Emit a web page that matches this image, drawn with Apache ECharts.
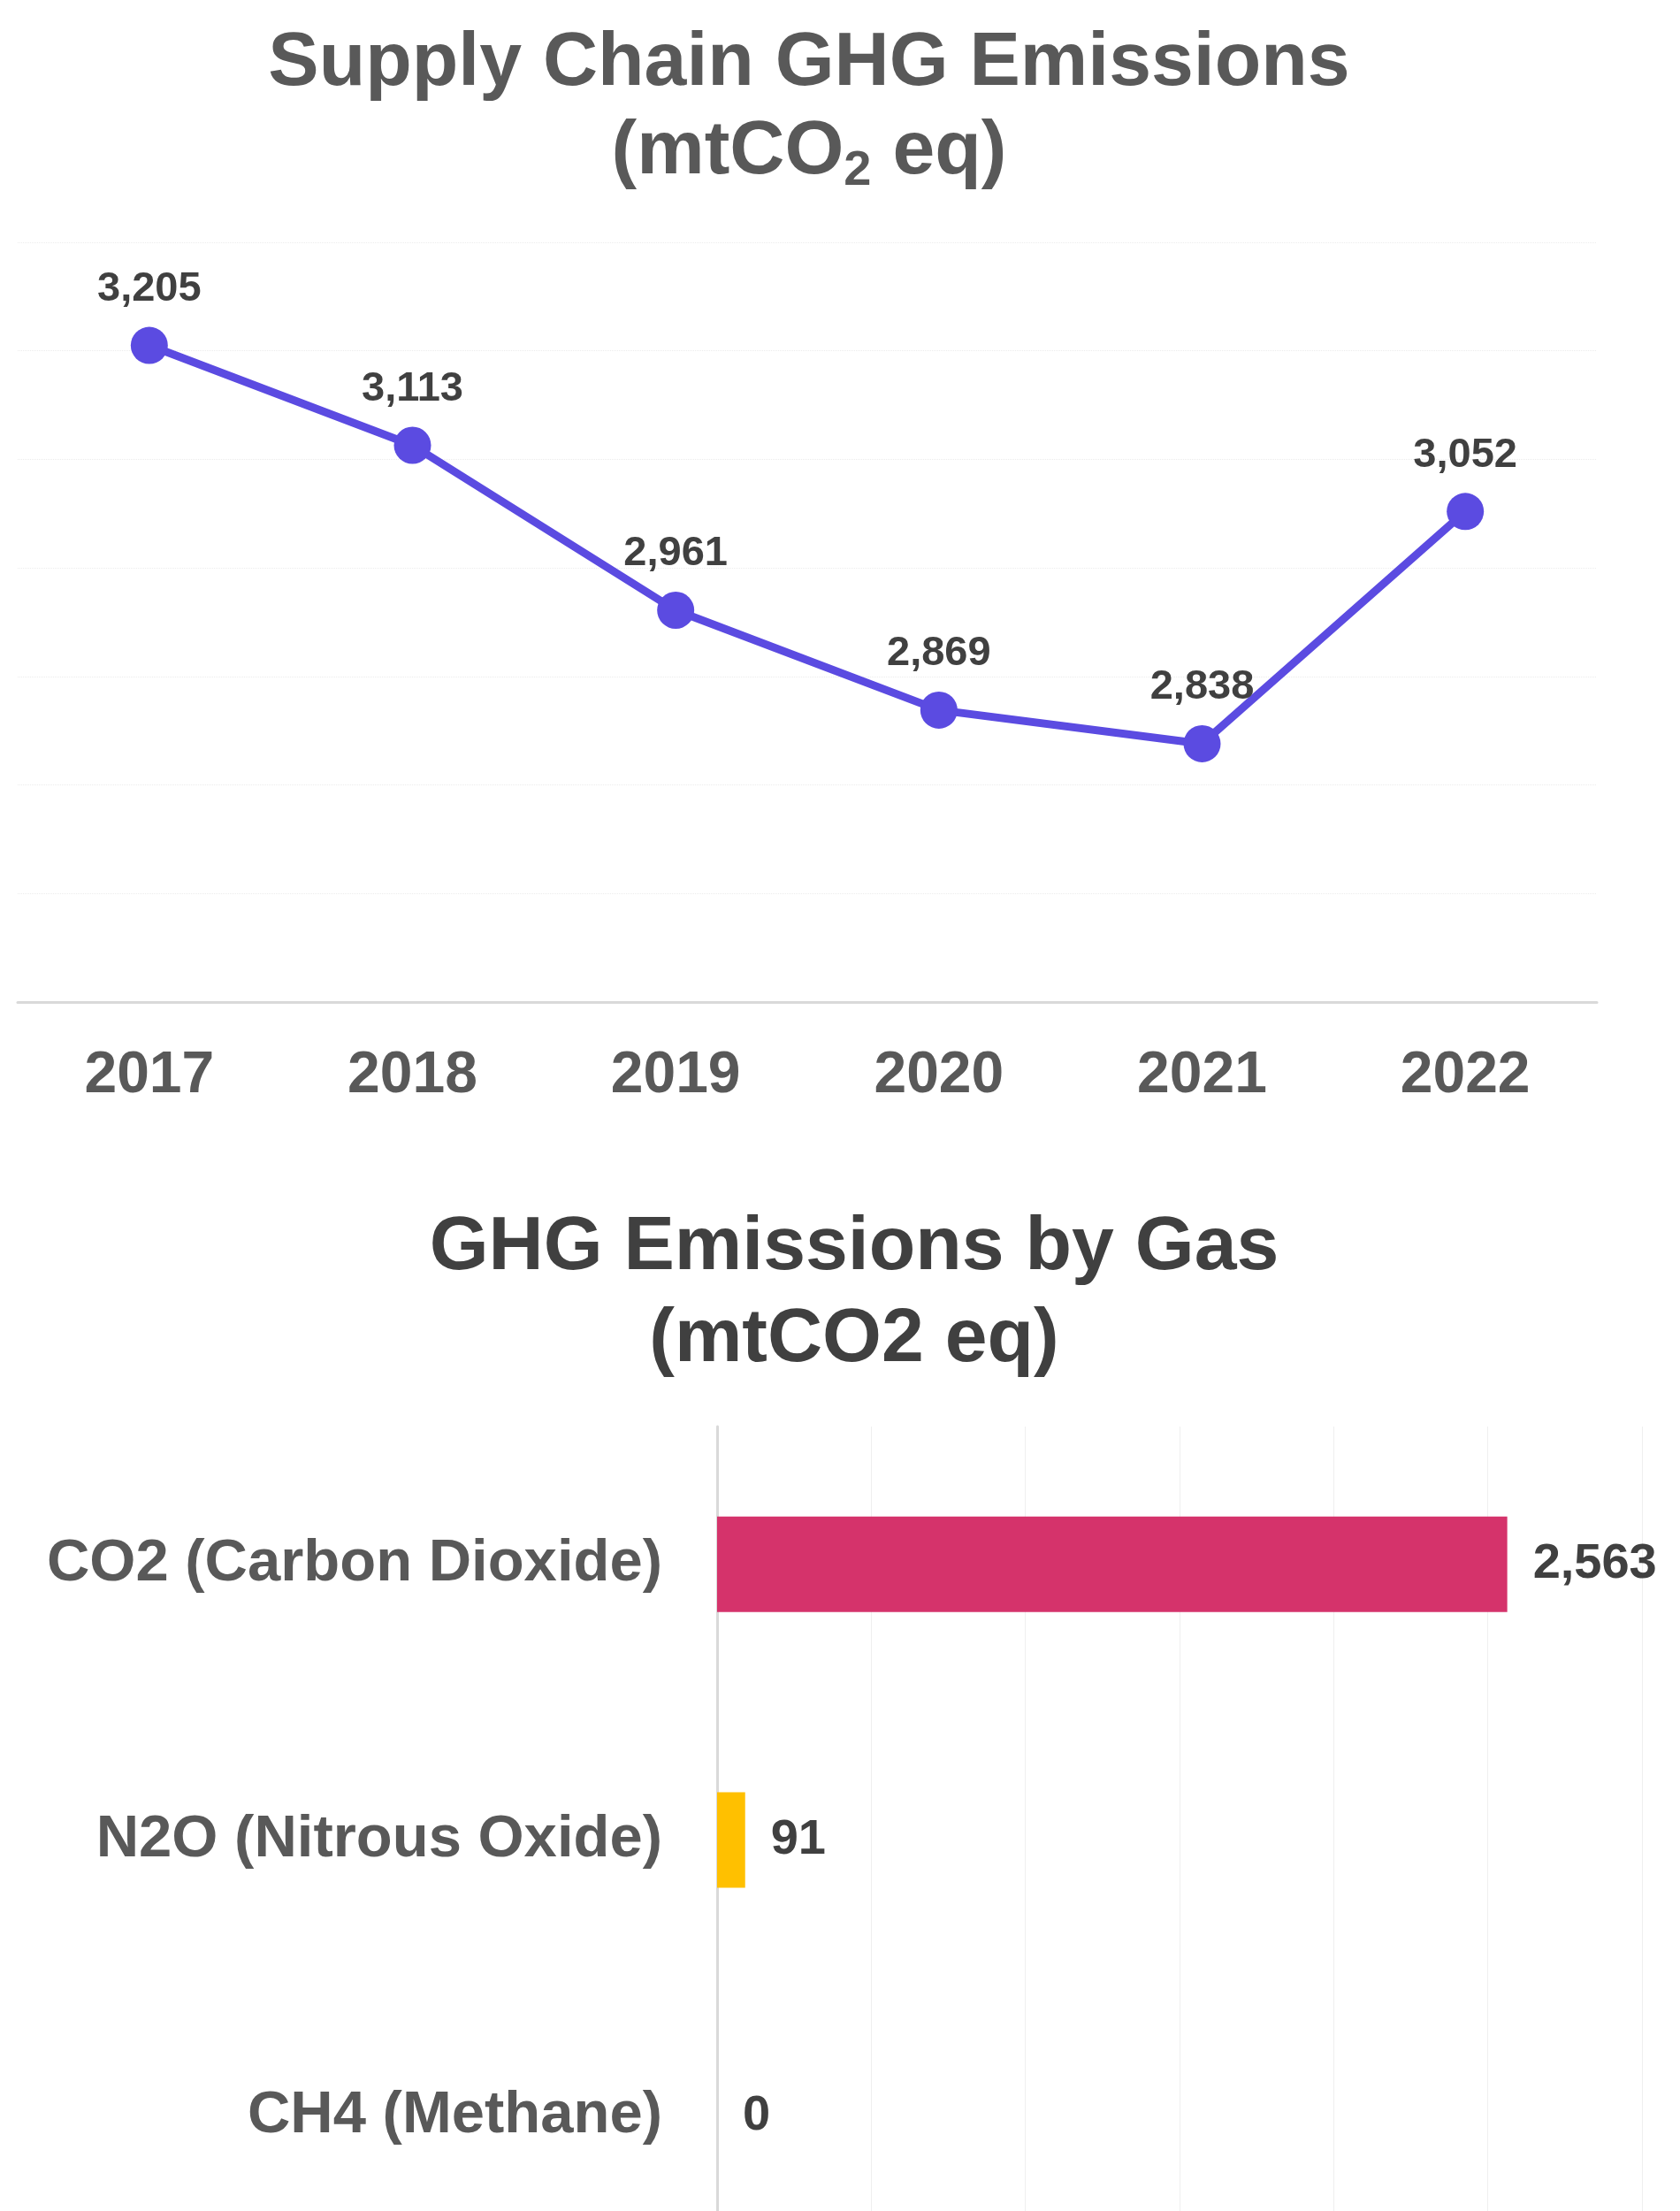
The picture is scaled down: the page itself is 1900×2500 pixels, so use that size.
<!DOCTYPE html>
<html>
<head>
<meta charset="utf-8">
<script src="https://cdn.jsdelivr.net/npm/echarts@6/dist/echarts.min.js"></script>
<style>
html,body{margin:0;padding:0;background:#fff;}
#chart{width:1900px;height:2500px;}
</style>
</head>
<body>
<div id="chart"></div>
<script>
// Top chart data
var years = ['2017', '2018', '2019', '2020', '2021', '2022'];
var supplyChainEmissions = [3205, 3113, 2961, 2869, 2838, 3052];
var lineAxisMin = 2600, lineAxisMax = 3300, lineAxisStep = 100;

// Bottom chart data
var gases = ['CO2 (Carbon Dioxide)', 'N2O (Nitrous Oxide)', 'CH4 (Methane)'];
var gasEmissions = [2563, 91, 0];
var gasColors = ['#D5336B', '#FFC000', '#A5A5A5'];
var barAxisMin = 0, barAxisMax = 3000, barAxisStep = 500;

var FONT = 'Liberation Sans, Arial, sans-serif';
function fmt(v) { return Number(v).toLocaleString('en-US'); }

var chart = echarts.init(document.getElementById('chart'), null, {renderer: 'canvas'});
chart.setOption({
  backgroundColor: '#ffffff',
  animation: false,
  title: [
    {
      text: '{t|Supply Chain GHG Emissions}\n{t|(mtCO}{s|2}{t| eq)}',
      left: 910, top: 17, textAlign: 'center',
      textStyle: {
        rich: {
          t: {fontFamily: FONT, fontWeight: 'bold', fontSize: 86, color: '#595959', lineHeight: 100},
          s: {fontFamily: FONT, fontWeight: 'bold', fontSize: 56, color: '#595959', lineHeight: 100, verticalAlign: 'bottom'}
        }
      }
    },
    {
      text: 'GHG Emissions by Gas\n(mtCO2 eq)',
      left: 961, top: 1354, textAlign: 'center',
      textStyle: {fontFamily: FONT, fontWeight: 'bold', fontSize: 86, color: '#404040', lineHeight: 104}
    }
  ],
  grid: [
    {left: 20, top: 274, width: 1786, height: 859, containLabel: false, outerBoundsMode: 'none'},
    {left: 811, top: 1613, width: 1046, height: 935, containLabel: false, outerBoundsMode: 'none'}
  ],
  xAxis: [
    {
      gridIndex: 0, type: 'category', data: years, boundaryGap: true,
      axisLine: {show: true, lineStyle: {color: '#d9d9d9', width: 3}},
      axisTick: {show: false},
      axisLabel: {fontFamily: FONT, fontWeight: 'bold', fontSize: 66, color: '#595959', margin: 51},
      splitLine: {show: false}
    },
    {
      gridIndex: 1, type: 'value', min: barAxisMin, max: barAxisMax, interval: barAxisStep,
      axisLine: {show: false}, axisTick: {show: false}, axisLabel: {show: false},
      splitLine: {show: true, lineStyle: {color: '#efefef', width: 1}}
    }
  ],
  yAxis: [
    {
      gridIndex: 0, type: 'value', min: lineAxisMin, max: lineAxisMax, interval: lineAxisStep,
      axisLine: {show: false}, axisTick: {show: false}, axisLabel: {show: false},
      splitLine: {show: true, lineStyle: {color: '#ececec', width: 1, type: 'dotted'}}
    },
    {
      gridIndex: 1, type: 'category', data: gases, inverse: true,
      axisLine: {show: true, lineStyle: {color: '#d9d9d9', width: 3}},
      axisTick: {show: false},
      axisLabel: {fontFamily: FONT, fontWeight: 'bold', fontSize: 67, color: '#595959', margin: 62},
      splitLine: {show: false}
    }
  ],
  series: [
    {
      type: 'line', xAxisIndex: 0, yAxisIndex: 0, data: supplyChainEmissions,
      symbol: 'circle', symbolSize: 42,
      lineStyle: {color: '#5B4BE1', width: 9},
      itemStyle: {color: '#5B4BE1'},
      label: {
        show: true, position: 'top', distance: 19,
        fontFamily: FONT, fontWeight: 'bold', fontSize: 47, color: '#404040',
        formatter: function (p) { return fmt(p.value); }
      },
      z: 3
    },
    {
      type: 'bar', xAxisIndex: 1, yAxisIndex: 1, barWidth: 108,
      data: gasEmissions.map(function (v, i) { return {value: v, itemStyle: {color: gasColors[i]}}; }),
      label: {
        show: true, position: 'right', distance: 29,
        fontFamily: FONT, fontWeight: 'bold', fontSize: 56, color: '#404040',
        formatter: function (p) { return fmt(p.value); }
      }
    }
  ]
});
</script>
</body>
</html>
